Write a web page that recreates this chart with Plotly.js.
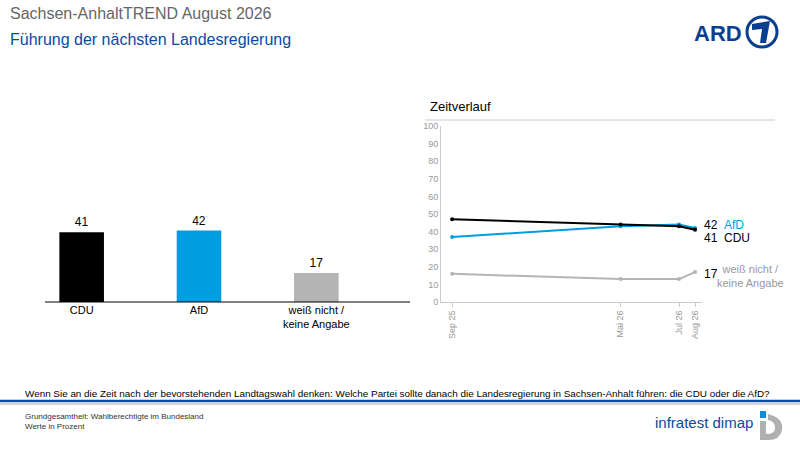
<!DOCTYPE html>
<html>
<head>
<meta charset="utf-8">
<script src="https://cdn.plot.ly/plotly-3.0.1.min.js"></script>
<style>body{margin:0;background:#fff}#chart{width:800px;height:450px}</style>
</head>
<body>
<div id="chart"></div>
<script>
// Bar data (current month)
const barCats = ['CDU', 'AfD', 'weiß nicht /<br>keine Angabe'];
const barVals = [41, 42, 17];
const barColors = ['#000000', '#009de0', '#b4b4b4'];

// Trend data
const dates = ['2025-09-05', '2026-05-05', '2026-07-28', '2026-08-20'];
const dateLabels = ['Sep 25', 'Mai 26', 'Jul 26', 'Aug 26'];
const cduTrend = [47, 44, 43, 41];
const afdTrend = [37, 43, 44, 42];
const wnTrend = [16, 13, 13, 17];

const W = 800, H = 450;
const px = x => x / W;
const py = y => 1 - y / H;
const font = 'Arial, "Liberation Sans", sans-serif';

function lineTrace(y, color) {
  return {
    type: 'scatter', mode: 'lines+markers', x: dates, y: y,
    xaxis: 'x2', yaxis: 'y2',
    line: {color: color, width: 2}, marker: {color: color, size: 4},
    hoverinfo: 'skip'
  };
}

const data = [
  {
    type: 'bar', x: barCats, y: barVals, marker: {color: barColors},
    width: 0.38, text: barVals.map(String), textposition: 'outside',
    textfont: {size: 12, color: '#000'}, cliponaxis: false
  },
  lineTrace(wnTrend, '#b4b4b4'),
  lineTrace(afdTrend, '#009de0'),
  lineTrace(cduTrend, '#000000')
];

function txt(x, y, text, size, color, anchor, extra) {
  return Object.assign({
    xref: 'paper', yref: 'paper', x: px(x), y: py(y), text: text,
    showarrow: false, xanchor: anchor || 'left', yanchor: 'middle',
    font: {size: size, color: color, family: font}
  }, extra || {});
}

const annotations = [
  txt(8, 14, 'Sachsen-AnhaltTREND August 2026', 16, '#666666'),
  txt(8, 39, 'Führung der nächsten Landesregierung', 16, '#0a4a9f'),
  txt(428, 107, 'Zeitverlauf', 13, '#000'),
  txt(702, 225, '42', 12, '#000'),
  txt(722, 225, 'AfD', 12, '#009de0'),
  txt(702, 238, '41', 12, '#000'),
  txt(722, 238, 'CDU', 12, '#000'),
  txt(702, 274, '17', 12, '#000'),
  txt(750, 276, 'weiß nicht /<br>keine Angabe', 11, '#999999', 'center'),
  txt(23, 393, 'Wenn Sie an die Zeit nach der bevorstehenden Landtagswahl denken: Welche Partei sollte danach die Landesregierung in Sachsen-Anhalt führen: die CDU oder die AfD?', 9.9, '#000'),
  txt(23, 416, 'Grundgesamtheit: Wahlberechtigte im Bundesland', 8, '#333'),
  txt(23, 426, 'Werte in Prozent', 8, '#333'),
  txt(755, 422, 'infratest dimap', 15, '#0a4a9f', 'right'),
  txt(744, 33, '<b>ARD</b>', 22, '#0a3f8f', 'right')
];

const shapes = [
  {type: 'line', xref: 'paper', yref: 'paper', x0: px(45), x1: px(410), y0: py(302), y1: py(302), line: {color: '#000', width: 1}},
  {type: 'line', xref: 'paper', yref: 'paper', x0: px(425), x1: px(775), y0: py(120), y1: py(120), line: {color: '#cccccc', width: 1}},
  {type: 'line', xref: 'paper', yref: 'paper', x0: 0, x1: 1, y0: py(401), y1: py(401), line: {color: '#0a4a9f', width: 2.5}},
  {type: 'line', xref: 'paper', yref: 'paper', x0: 0, x1: 1, y0: py(404), y1: py(404), line: {color: '#aaaaaa', width: 1}},
  // ARD "1" logo circle
  {type: 'circle', xref: 'paper', yref: 'paper', x0: px(747), x1: px(777), y0: py(17), y1: py(47), line: {color: '#0a3f8f', width: 3}},
  {type: 'path', xref: 'paper', yref: 'paper',
   path: `M ${px(752)} ${py(24)} L ${px(770)} ${py(21)} L ${px(766)} ${py(43)} L ${px(760)} ${py(43)} L ${px(762)} ${py(29)} L ${px(752)} ${py(30)} Z`,
   fillcolor: '#0a3f8f', line: {width: 0}},
  // infratest dimap mark
  {type: 'rect', xref: 'paper', yref: 'paper', x0: px(760), x1: px(766), y0: py(411), y1: py(418), fillcolor: '#0a8fd6', line: {width: 0}},
  {type: 'path', xref: 'paper', yref: 'paper',
   path: `M ${px(768)} ${py(414)} Q ${px(784)} ${py(418)} ${px(782)} ${py(430)} Q ${px(780)} ${py(441)} ${px(766)} ${py(440)} L ${px(766)} ${py(434)} Q ${px(775)} ${py(434)} ${px(775)} ${py(428)} Q ${px(775)} ${py(421)} ${px(768)} ${py(420)} Z`,
   fillcolor: '#b0b0b0', line: {width: 0}},
  {type: 'rect', xref: 'paper', yref: 'paper', x0: px(760), x1: px(766), y0: py(421), y1: py(440), fillcolor: '#b0b0b0', line: {width: 0}}
];

const layout = {
  width: W, height: H,
  margin: {l: 0, r: 0, t: 0, b: 0},
  paper_bgcolor: '#fff', plot_bgcolor: 'rgba(0,0,0,0)',
  showlegend: false,
  font: {family: font},
  xaxis: {
    domain: [px(23), px(375)], showgrid: false, zeroline: false,
    showline: false, ticks: '',
    tickfont: {size: 11, color: '#000'}, fixedrange: true
  },
  yaxis: {
    domain: [py(302), py(132)], range: [0, 100], visible: false, fixedrange: true
  },
  xaxis2: {
    domain: [px(441), px(702)], anchor: 'y2', type: 'date',
    range: ['2025-08-20', '2026-08-30'],
    tickvals: dates, ticktext: dateLabels, tickangle: -90,
    tickfont: {size: 9, color: '#999'}, ticks: 'outside', ticklen: 4, tickcolor: '#ccc',
    showgrid: false, zeroline: false, showline: true, linecolor: '#ccc', fixedrange: true
  },
  yaxis2: {
    domain: [py(302), py(126)], anchor: 'x2', range: [0, 100], dtick: 10,
    tickfont: {size: 9, color: '#999'}, showgrid: false, zeroline: false,
    showline: true, linecolor: '#ccc', ticks: '', fixedrange: true
  },
  annotations: annotations,
  shapes: shapes
};

Plotly.newPlot('chart', data, layout, {displayModeBar: false, staticPlot: true});
</script>
</body>
</html>
